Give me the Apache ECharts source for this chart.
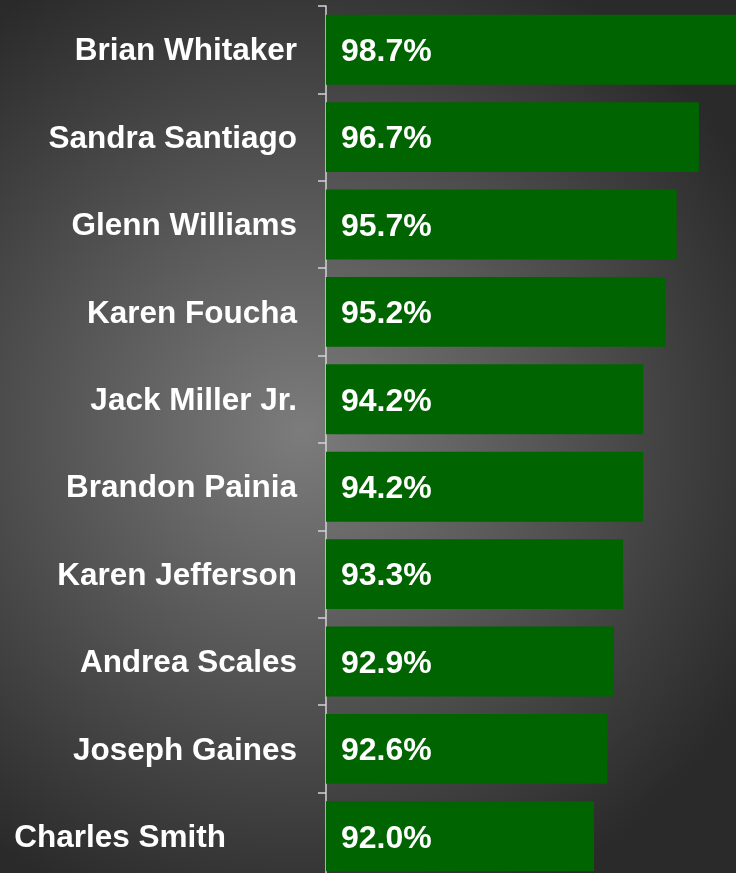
<!DOCTYPE html>
<html>
<head>
<meta charset="utf-8">
<script src="https://cdn.jsdelivr.net/npm/echarts@6/dist/echarts.min.js"></script>
<style>
    html, body { margin: 0; padding: 0; overflow: hidden; }
    /* a bit taller than the window: last band runs past the bottom edge */
    #myChart { width: 736px; height: 880px; }
</style>
</head>
<body>
<div id="myChart"></div>
<script>
    // top performers, share in percent
    var names = ['Brian Whitaker', 'Sandra Santiago', 'Glenn Williams', 'Karen Foucha', 'Jack Miller Jr.',
        'Brandon Painia', 'Karen Jefferson', 'Andrea Scales', 'Joseph Gaines', 'Charles Smith'];
    var scores = [98.7, 96.7, 95.7, 95.2, 94.2, 94.2, 93.3, 92.9, 92.6, 92.0];

    var myChart = echarts.init(document.getElementById('myChart'));

    var font = "'Liberation Sans', Arial, sans-serif";

    var option = {
        backgroundColor: new echarts.graphic.RadialGradient(0.41, 0.49, 0.7, [
            {offset: 0, color: '#7c7c7c'},
            {offset: 1, color: '#2a2a2a'}
        ]),
        grid: {
            left: 326,
            right: 0,
            top: 6,
            height: 874
        },
        xAxis: {
            type: 'value',
            min: 80,
            max: 98.36,
            show: false
        },
        yAxis: {
            type: 'category',
            inverse: true,
            data: names,
            axisLine: {show: true, lineStyle: {color: '#d4d4d4', width: 1.5}},
            axisTick: {show: true, length: 8, lineStyle: {color: '#d4d4d4', width: 1.5}},
            axisLabel: {
                margin: 29,
                color: '#fff',
                fontFamily: font,
                fontWeight: 'bold',
                fontSize: 31.5,
                padding: [4, 0, 0, 0],
                // last name sits further left in the original
                formatter: function (v) {
                    return v === 'Charles Smith' ? '{last|' + v + '}' : v;
                },
                rich: {
                    last: {
                        color: '#fff',
                        fontFamily: font,
                        fontWeight: 'bold',
                        fontSize: 31.5,
                        padding: [0, 71, 0, 0]
                    }
                }
            }
        },
        series: [{
            type: 'bar',
            data: scores,
            barCategoryGap: '20%',
            itemStyle: {color: '#006400'},
            label: {
                show: true,
                position: 'insideLeft',
                distance: 15,
                offset: [0, 2.5],
                color: '#fff',
                fontFamily: font,
                fontWeight: 'bold',
                fontSize: 32,
                formatter: function (p) {
                    return p.value.toFixed(1) + '%';
                }
            }
        }]
    };

    myChart.setOption(option);
</script>
</body>
</html>
